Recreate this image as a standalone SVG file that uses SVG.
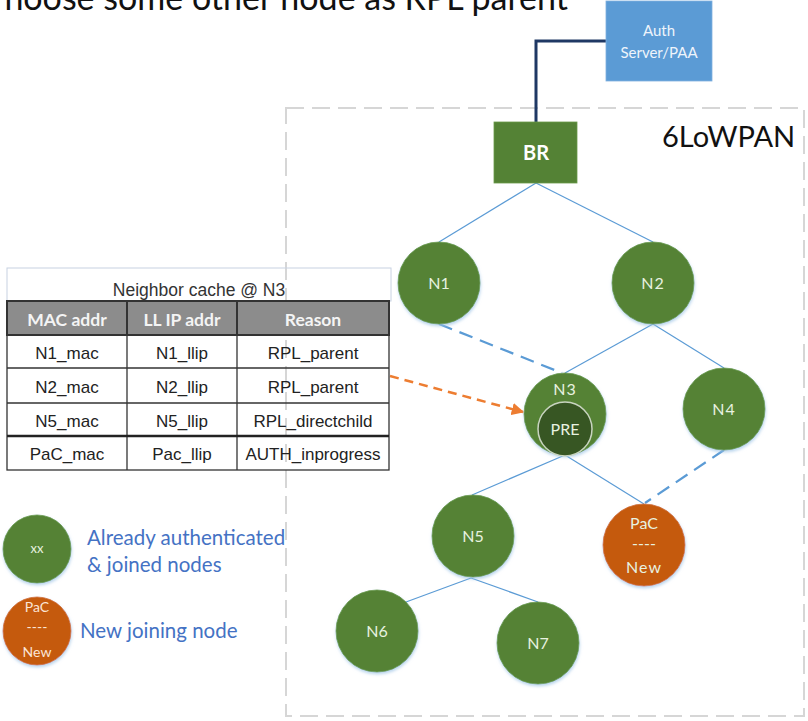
<svg xmlns="http://www.w3.org/2000/svg" width="808" height="721" viewBox="0 0 808 721">
  <style>
    .cal { font-family: Lato, "Open Sans", "Liberation Sans", sans-serif; }
    .ari { font-family: "Liberation Sans", Arial, sans-serif; }
    .node { fill: #548235; stroke: #6a9a4a; stroke-width: 0.8; filter: url(#glow); }
    .new { fill: #c55a11; stroke: #d07030; stroke-width: 0.8; filter: url(#glow); }
    .lbl { fill: #e8f2e0; font-size: 16px; text-anchor: middle; }
    .link { stroke: #5b9bd5; stroke-width: 1.2; fill: none; }
    .weak { stroke: #5b9bd5; stroke-width: 2.2; fill: none; stroke-dasharray: 14 8; }
    .cell { font-size: 17px; fill: #222; text-anchor: middle; }
    .head { font-size: 17.5px; fill: #f4f4f4; font-weight: bold; text-anchor: middle; }
    .legend { fill: #4472c4; font-size: 20.5px; }
  </style>
  <defs>
    <filter id="glow" x="-20%" y="-20%" width="140%" height="150%">
      <feDropShadow dx="0.5" dy="2" stdDeviation="1.5" flood-color="#9dc3e6" flood-opacity="0.7"/>
    </filter>
    <marker id="arr" viewBox="0 0 10 10" refX="9" refY="5" markerWidth="5" markerHeight="5" orient="auto">
      <path d="M0,0 L10,5 L0,10 z" fill="#ed7d31"/>
    </marker>
  </defs>

  <rect width="808" height="721" fill="#ffffff"/>

  <!-- heading, running off the left edge -->
  <text class="cal" x="568" y="10" font-size="34" text-anchor="end" fill="#111">hoose some other node as RPL parent</text>

  <!-- 6LoWPAN area -->
  <g id="lowpan-area">
    <rect x="286" y="108" width="518" height="608" fill="none" stroke="#d6d6d6" stroke-width="2" stroke-dasharray="18 8"/>
    <text class="cal" x="662" y="147" font-size="29" fill="#111">6LoWPAN</text>
  </g>

  <!-- connectors -->
  <g id="connectors">
    <polyline points="608,41 536,41 536,122" fill="none" stroke="#1f3864" stroke-width="3"/>
    <line class="link" x1="536" y1="183" x2="439" y2="242"/>
    <line class="link" x1="536" y1="183" x2="653" y2="242"/>
    <line class="weak" x1="439" y1="324" x2="562" y2="373"/>
    <line class="link" x1="653" y1="324" x2="565" y2="373"/>
    <line class="link" x1="653" y1="324" x2="724" y2="368"/>
    <line class="link" x1="565" y1="455" x2="472" y2="495"/>
    <line class="link" x1="565" y1="455" x2="644" y2="504"/>
    <line class="weak" x1="724" y1="450" x2="645" y2="503"/>
    <line class="link" x1="471" y1="578" x2="406" y2="602"/>
    <line class="link" x1="471" y1="578" x2="538" y2="602"/>
    <line x1="390" y1="376" x2="523" y2="412" stroke="#ed7d31" stroke-width="2.5" stroke-dasharray="9 6" marker-end="url(#arr)"/>
  </g>

  <!-- auth server -->
  <g id="auth">
    <rect x="606" y="1" width="106" height="80" fill="#5b9bd5" stroke="#7fb0de" stroke-width="0.8"/>
    <text class="cal" x="659" y="36" font-size="15" fill="#eef4fb" text-anchor="middle">Auth</text>
    <text class="cal" x="659" y="58" font-size="15" fill="#eef4fb" text-anchor="middle">Server/PAA</text>
  </g>

  <!-- border router -->
  <g id="br">
    <rect x="494" y="122" width="83" height="61" fill="#548235" stroke="#6a9a4a" stroke-width="0.8"/>
    <text class="cal" x="536" y="160" font-size="20" font-weight="bold" fill="#ffffff" text-anchor="middle">BR</text>
  </g>

  <g id="n1">
    <circle class="node" cx="439" cy="283" r="41"/>
    <text class="cal lbl" x="439" y="289">N1</text>
  </g>
  <g id="n2">
    <circle class="node" cx="653" cy="283" r="41"/>
    <text class="cal lbl" x="653" y="289" letter-spacing="1">N2</text>
  </g>
  <g id="n3">
    <circle class="node" cx="565" cy="414" r="41"/>
    <text class="cal lbl" x="565" y="395" letter-spacing="1">N3</text>
    <circle cx="565" cy="429" r="27" fill="#375623" stroke="#c8d4c0" stroke-width="1.5"/>
    <text class="cal lbl" x="565" y="435">PRE</text>
  </g>
  <g id="n4">
    <circle class="node" cx="724" cy="409" r="41"/>
    <text class="cal lbl" x="724" y="415" letter-spacing="1">N4</text>
  </g>
  <g id="n5">
    <circle class="node" cx="473" cy="536" r="41"/>
    <text class="cal lbl" x="473" y="542">N5</text>
  </g>
  <g id="pac">
    <circle class="new" cx="644" cy="545" r="41"/>
    <text class="cal lbl" x="644" y="529" fill="#fbe5d6">PaC</text>
    <text class="cal lbl" x="644" y="549" fill="#fbe5d6">----</text>
    <text class="cal lbl" x="644" y="573" fill="#fbe5d6" letter-spacing="1">New</text>
  </g>
  <g id="n6">
    <circle class="node" cx="377" cy="631" r="41"/>
    <text class="cal lbl" x="377" y="637">N6</text>
  </g>
  <g id="n7">
    <circle class="node" cx="538" cy="643" r="41"/>
    <text class="cal lbl" x="538" y="649">N7</text>
  </g>

  <!-- neighbor cache table -->
  <g id="neighbor-cache">
    <rect x="7" y="268" width="384" height="33" fill="none" stroke="#c8d2e2" stroke-width="1"/>
    <text class="ari" x="199" y="296" font-size="17.5" fill="#333" text-anchor="middle">Neighbor cache @ N3</text>
    <rect x="7" y="301" width="382" height="34" fill="#8c8c8c" stroke="#333" stroke-width="2"/>
    <line x1="127" y1="301" x2="127" y2="335" stroke="#333" stroke-width="2"/>
    <line x1="237" y1="301" x2="237" y2="335" stroke="#333" stroke-width="2"/>
    <text class="cal head" x="67" y="326">MAC addr</text>
    <text class="cal head" x="182" y="326">LL IP addr</text>
    <text class="cal head" x="313" y="326">Reason</text>
    <g fill="none" stroke="#333" stroke-width="1.3">
      <rect x="7" y="335" width="382" height="135"/>
      <line x1="7" y1="368" x2="389" y2="368"/>
      <line x1="7" y1="403" x2="389" y2="403"/>
      <line x1="127" y1="335" x2="127" y2="470"/>
      <line x1="237" y1="335" x2="237" y2="470"/>
    </g>
    <line x1="7" y1="436" x2="389" y2="436" stroke="#222" stroke-width="2.5"/>
    <text class="ari cell" x="67" y="359">N1_mac</text>
    <text class="ari cell" x="182" y="359">N1_llip</text>
    <text class="ari cell" x="313" y="359">RPL_parent</text>
    <text class="ari cell" x="67" y="393">N2_mac</text>
    <text class="ari cell" x="182" y="393">N2_llip</text>
    <text class="ari cell" x="313" y="393">RPL_parent</text>
    <text class="ari cell" x="67" y="427">N5_mac</text>
    <text class="ari cell" x="182" y="427">N5_llip</text>
    <text class="ari cell" x="313" y="427">RPL_directchild</text>
    <text class="ari cell" x="67" y="460">PaC_mac</text>
    <text class="ari cell" x="182" y="460">Pac_llip</text>
    <text class="ari cell" x="313" y="460">AUTH_inprogress</text>
  </g>

  <!-- legend -->
  <g id="legend-joined">
    <circle class="node" cx="37" cy="549" r="34"/>
    <text class="cal" x="37" y="553" font-size="13" fill="#e8f2e0" text-anchor="middle">xx</text>
    <text class="cal legend" x="87" y="545">Already authenticated</text>
    <text class="cal legend" x="87" y="572">&amp; joined nodes</text>
  </g>
  <g id="legend-new">
    <circle class="new" cx="37" cy="631" r="34"/>
    <text class="cal" x="37" y="612" font-size="14" fill="#fbe5d6" text-anchor="middle">PaC</text>
    <text class="cal" x="37" y="632" font-size="14" fill="#fbe5d6" text-anchor="middle">----</text>
    <text class="cal" x="37" y="657" font-size="14" fill="#fbe5d6" text-anchor="middle">New</text>
    <text class="cal legend" x="80" y="638">New joining node</text>
  </g>
</svg>
